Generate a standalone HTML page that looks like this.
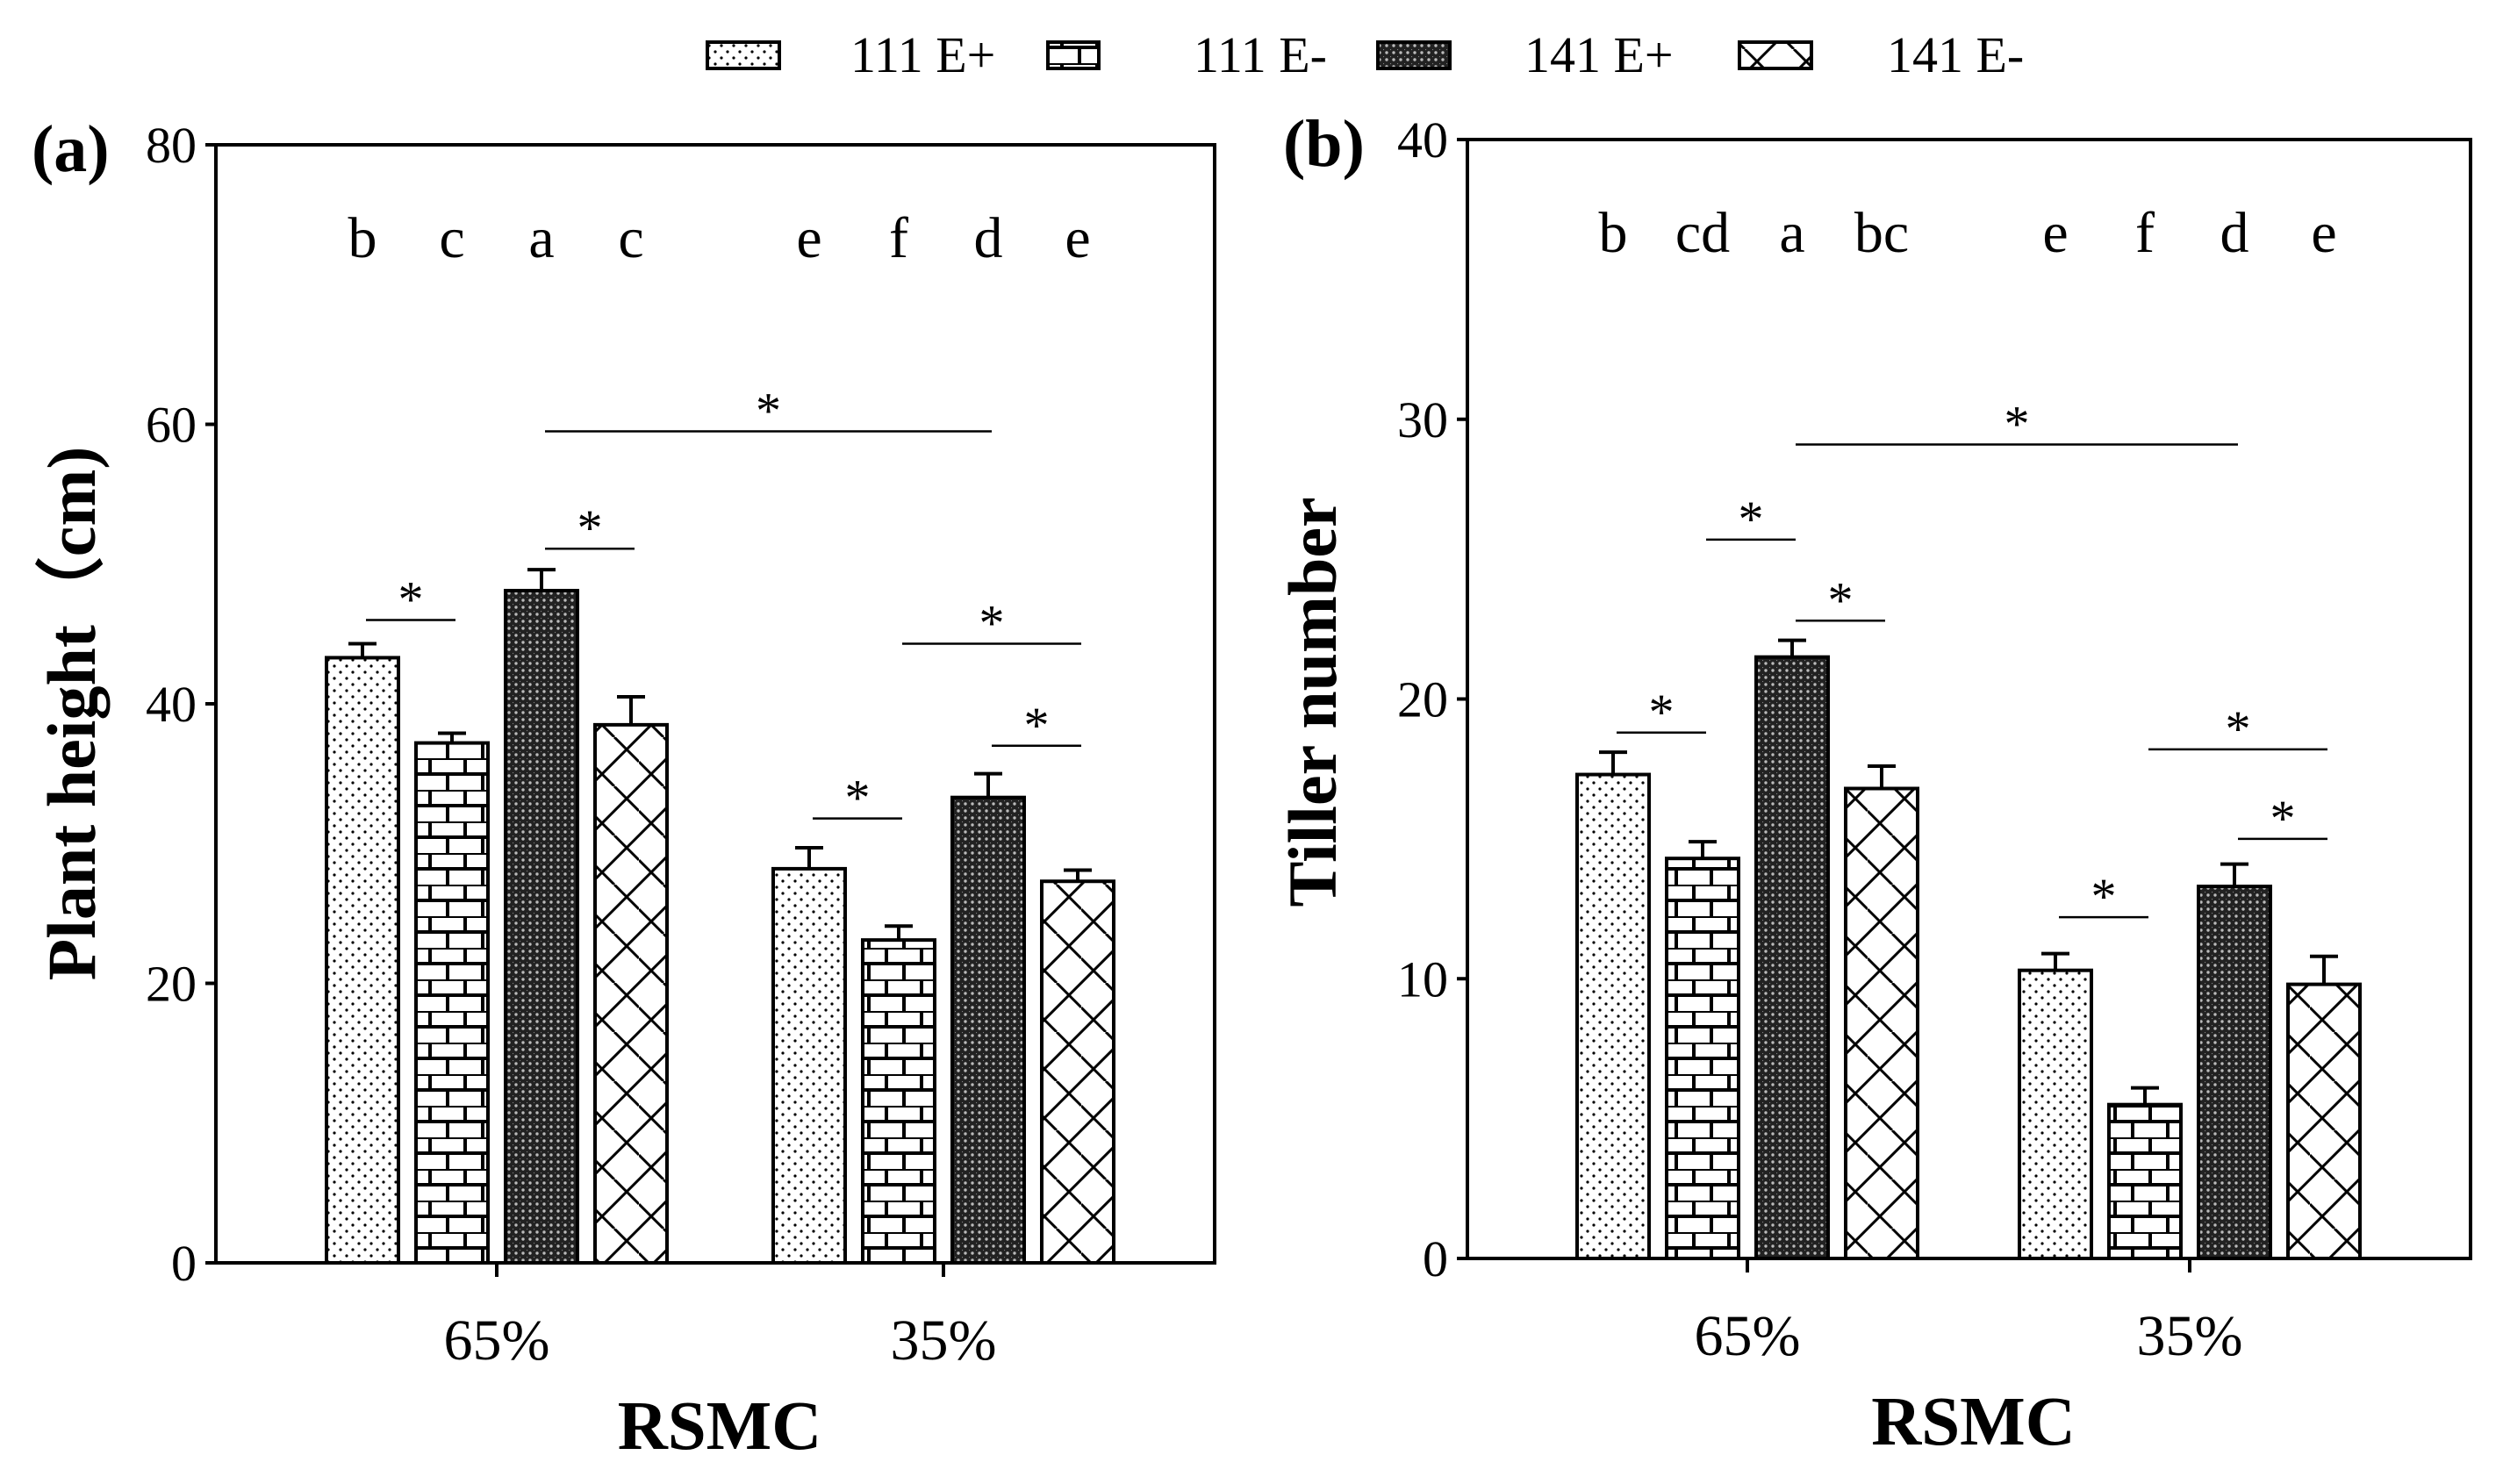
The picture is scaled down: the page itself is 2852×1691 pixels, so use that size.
<!DOCTYPE html>
<html><head><meta charset="utf-8"><style>
html,body{margin:0;padding:0;background:#fff;}
svg{display:block;font-family:"Liberation Serif",serif;}
</style></head><body>
<svg id="chart" width="2852" height="1691" viewBox="0 0 2852 1691" xmlns="http://www.w3.org/2000/svg">
<defs>
<pattern id="p-dots" width="14" height="14" patternUnits="userSpaceOnUse">
<rect width="14" height="14" fill="#fff"/><circle cx="3" cy="3" r="1.6" fill="#000"/><circle cx="10" cy="10" r="1.6" fill="#000"/>
</pattern>
<pattern id="p-brick" width="40" height="36" patternUnits="userSpaceOnUse">
<rect width="40" height="36" fill="#fff"/>
<path d="M0 0H40M0 18H40M10 0V18M30 18V36" stroke="#000" stroke-width="4"/>
</pattern>
<pattern id="p-cross" width="8" height="8" patternUnits="userSpaceOnUse">
<rect width="8" height="8" fill="#222"/><circle cx="4" cy="4" r="1.7" fill="#bbb"/><circle cx="0" cy="0" r="1.2" fill="#888"/>
</pattern>
<pattern id="p-diag" width="56" height="56" patternUnits="userSpaceOnUse">
<rect width="56" height="56" fill="#fff"/>
<path d="M0 56L56 0M-14 14L14 -14M42 70L70 42" stroke="#000" stroke-width="3"/>
<path d="M0 28L28 56M28 0L56 28" stroke="#000" stroke-width="3"/>
</pattern>
</defs>
<g id="legend"></g>
<g id="pa"></g>
<g id="pb"></g>
</svg>
<script>
const groups = ["65%", "35%"];
const series = ["111 E+", "111 E-", "141 E+", "141 E-"];
const heightVals = [[43.3, 37.2, 48.1, 38.5], [28.2, 23.1, 33.3, 27.3]];
const heightErr = [[1.0, 0.7, 1.5, 2.0], [1.5, 1.0, 1.7, 0.8]];
const heightLetters = [["b","c","a","c"],["e","f","d","e"]];
const heightTicks = [0, 20, 40, 60, 80];
const tillerVals = [[17.3, 14.3, 21.5, 16.8], [10.3, 5.5, 13.3, 9.8]];
const tillerErr = [[0.8, 0.6, 0.6, 0.8], [0.6, 0.6, 0.8, 1.0]];
const tillerLetters = [["b","cd","a","bc"],["e","f","d","e"]];
const tillerTicks = [0, 10, 20, 30, 40];
// significance brackets: [fromGroup, fromSeries, toGroup, toSeries, yValue]
const heightSig = [[0,0,0,1,46.0],[0,2,0,3,51.1],[0,2,1,2,59.5],[1,0,1,1,31.8],[1,1,1,3,44.3],[1,2,1,3,37.0]];
const tillerSig = [[0,0,0,1,18.8],[0,1,0,2,25.7],[0,2,0,3,22.8],[0,2,1,2,29.1],[1,0,1,1,12.2],[1,1,1,3,18.2],[1,2,1,3,15.0]];
const fills = ["url(#p-dots)","url(#p-brick)","url(#p-cross)","url(#p-diag)"];
const NS = "http://www.w3.org/2000/svg";
function mk(parent, tag, attrs, text){const e=document.createElementNS(NS,tag);for(const k in attrs)e.setAttribute(k,attrs[k]);if(text!==undefined)e.textContent=text;parent.appendChild(e);return e;}

function panel(g, cfg){
  const {x0,x1,y0,y1,max,vals,err,letters,ticks,sig,label,ytitle,ytx,yty,groupCenters} = cfg;
  const y = v => y1 - (v/max)*(y1-y0);
  const step = 102, bw = 82;
  const bx = (gi, si) => groupCenters[gi] + (si-1.5)*step;
  mk(g,"rect",{x:x0,y:y0,width:x1-x0,height:y1-y0,fill:"none",stroke:"#000","stroke-width":4});
  ticks.forEach(t=>{
    const tl=mk(g,"line",{x1:x0-12,x2:x0,y1:y(t),y2:y(t),stroke:"#000","stroke-width":4});
    
    
    const tt=mk(g,"text",{x:x0-22,y:y(t)+20,"font-size":58,"text-anchor":"end"},String(t));
    
    
  });
  groups.forEach((gn,gi)=>{
    const c=groupCenters[gi];
    mk(g,"line",{x1:c,x2:c,y1:y1,y2:y1+16,stroke:"#000","stroke-width":4});
    const xl=mk(g,"text",{x:c,y:y1+110,"font-size":66,"text-anchor":"middle"},gn);
    
    
    series.forEach((s,si)=>{
      const cx=bx(gi,si), v=vals[gi][si], e=err[gi][si];
      const r=mk(g,"rect",{x:cx-bw/2,y:y(v),width:bw,height:y1-y(v),fill:fills[si],stroke:"#000","stroke-width":4});
      
      
      mk(g,"path",{d:`M${cx} ${y(v)}V${y(v+e)}M${cx-16} ${y(v+e)}H${cx+16}`,stroke:"#000","stroke-width":4,fill:"none"});
      const lt=mk(g,"text",{x:cx,y:y0+128,"font-size":66,"text-anchor":"middle"},letters[gi][si]);
      
      
    });
  });
  sig.forEach(s=>{
    const xa=bx(s[0],s[1])+4, xb=bx(s[2],s[3])+4, yy=y(s[4]);
    const ln=mk(g,"line",{x1:xa,x2:xb,y1:yy,y2:yy,stroke:"#000","stroke-width":2.5});
    
    
    mk(g,"text",{x:(xa+xb)/2,y:yy-4,"font-size":58,"text-anchor":"middle"},"*");
  });
  const pl=mk(g,"text",{x:x0-210,y:y0+30,"font-size":76,"font-weight":"bold"},label);
  
  
  const yt=mk(g,"text",{x:ytx,y:yty,"font-size":78,"font-weight":"bold","text-anchor":"middle",transform:`rotate(-90 ${ytx} ${yty})`},ytitle);
  
  
  const xt=mk(g,"text",{x:(x0+x1)/2+5,y:y1+212,"font-size":79,"font-weight":"bold","text-anchor":"middle"},"RSMC");
  
  
}
panel(document.getElementById("pa"),{x0:246,x1:1384,y0:165,y1:1439,max:80,vals:heightVals,err:heightErr,letters:heightLetters,ticks:heightTicks,sig:heightSig,label:"(a)",ytitle:"Plant height（cm)",ytx:108,yty:813,groupCenters:[566,1075]});
panel(document.getElementById("pb"),{x0:1672,x1:2815,y0:159,y1:1434,max:40,vals:tillerVals,err:tillerErr,letters:tillerLetters,ticks:tillerTicks,sig:tillerSig,label:"(b)",ytitle:"Tiller number",ytx:1522,yty:800,groupCenters:[1426+565,1426+1069]});

const lg=document.getElementById("legend");
const lboxX=[806,1194,1570,1982], ltextX=[969,1360,1737,2150];
series.forEach((s,i)=>{
  const w = i===1?58:82;
  const b=mk(lg,"rect",{x:lboxX[i],y:48,width:w,height:30,fill:fills[i],stroke:"#000","stroke-width":4});
  
  
  const t=mk(lg,"text",{x:ltextX[i],y:82,"font-size":58},s);
  
  
});
</script>
</body></html>
